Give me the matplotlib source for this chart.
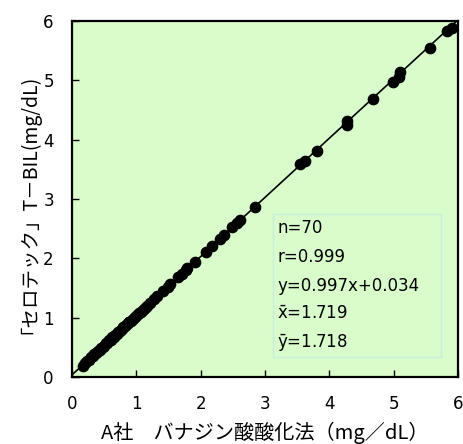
import numpy as np
import matplotlib
matplotlib.use('Agg')
import matplotlib.pyplot as plt

plt.rcParams['font.family'] = ['Noto Sans CJK JP', 'DejaVu Sans']
plt.rcParams['mathtext.fontset'] = 'dejavusans'

# A社 バナジン酸酸化法 (x) と「セロテック」T-BIL (y)
x_vals = [0.17, 0.20, 0.23, 0.26, 0.29, 0.32, 0.35, 0.37, 0.40, 0.43,
          0.45, 0.48, 0.50, 0.53, 0.55, 0.58, 0.60, 0.62, 0.63, 0.65,
          0.67, 0.70, 0.72, 0.75, 0.78, 0.80, 0.83, 0.86, 0.88, 0.89,
          0.92, 0.95, 0.98, 1.01, 1.04, 1.07, 1.10, 1.13, 1.16,
          1.21, 1.28, 1.33, 1.42, 1.49, 1.52, 1.65, 1.71, 1.77, 1.79,
          1.91, 2.08, 2.18, 2.30, 2.36, 2.49, 2.57, 2.61,
          2.85, 3.55, 3.63, 3.81, 4.27, 4.28, 4.68, 4.99, 5.08, 5.10,
          5.57, 5.83, 5.90]
y_vals = [0.19, 0.24, 0.27, 0.29, 0.33, 0.35, 0.39, 0.40, 0.44, 0.46,
          0.49, 0.51, 0.53, 0.57, 0.58, 0.62, 0.63, 0.65, 0.67, 0.68,
          0.71, 0.73, 0.76, 0.78, 0.81, 0.84, 0.86, 0.89, 0.92, 0.93,
          0.95, 0.98, 1.01, 1.05, 1.07, 1.10, 1.13, 1.17, 1.19,
          1.24, 1.31, 1.37, 1.45, 1.52, 1.56, 1.68, 1.74, 1.80, 1.83,
          1.94, 2.11, 2.21, 2.33, 2.40, 2.52, 2.59, 2.64,
          2.87, 3.58, 3.64, 3.80, 4.24, 4.32, 4.69, 4.97, 5.05, 5.14,
          5.55, 5.83, 5.88]

slope = 0.997
intercept = 0.034
stats_text = ['n=70', 'r=0.999', 'y=0.997x+0.034',
              r'$\mathrm{\bar{x}}$=1.719', r'$\mathrm{\bar{y}}$=1.718']

ticks = [0, 1, 2, 3, 4, 5, 6]
tick_labels = ['0', '1', '2', '3', '4', '5', '6']

fig = plt.figure(figsize=(4.64, 4.44), dpi=100)
ax = fig.add_axes([0.155, 0.151, 0.832, 0.802])
ax.set_facecolor('#d9fccb')

line_x = np.array([0, 6])
ax.plot(line_x, slope * line_x + intercept, color='black', linewidth=1.2, zorder=2)
ax.scatter(x_vals, y_vals, s=55, color='black', zorder=3)

ax.set_xlim(0, 6)
ax.set_ylim(0, 6)
ax.set_xticks(ticks)
ax.set_yticks(ticks)
ax.set_xticklabels(tick_labels, family='DejaVu Sans', fontsize=12)
ax.set_yticklabels(tick_labels, family='DejaVu Sans', fontsize=12)
ax.tick_params(direction='in', length=5, width=1, pad=13)
for s in ax.spines.values():
    s.set_linewidth(1.6)

ax.set_xlabel('A社\u3000バナジン酸酸化法（mg／dL）', fontsize=14.5, va='center')
ax.set_ylabel('「セロテック」T－BIL(mg/dL)', fontsize=14, va='center')
ax.xaxis.set_label_coords(0.5, -0.157)
ax.yaxis.set_label_coords(-0.135, 0.5)

# 統計ボックス
box = plt.Rectangle((3.13, 0.34), 2.61, 2.41, facecolor='none',
                    edgecolor='#c4f0dc', linewidth=1, zorder=1)
ax.add_patch(box)
for i, t in enumerate(stats_text):
    ax.text(3.19, 2.51 - i * 0.485, t, fontsize=12, va='center', ha='left',
            family='DejaVu Sans', zorder=4)

plt.savefig('out.png', dpi=100)
